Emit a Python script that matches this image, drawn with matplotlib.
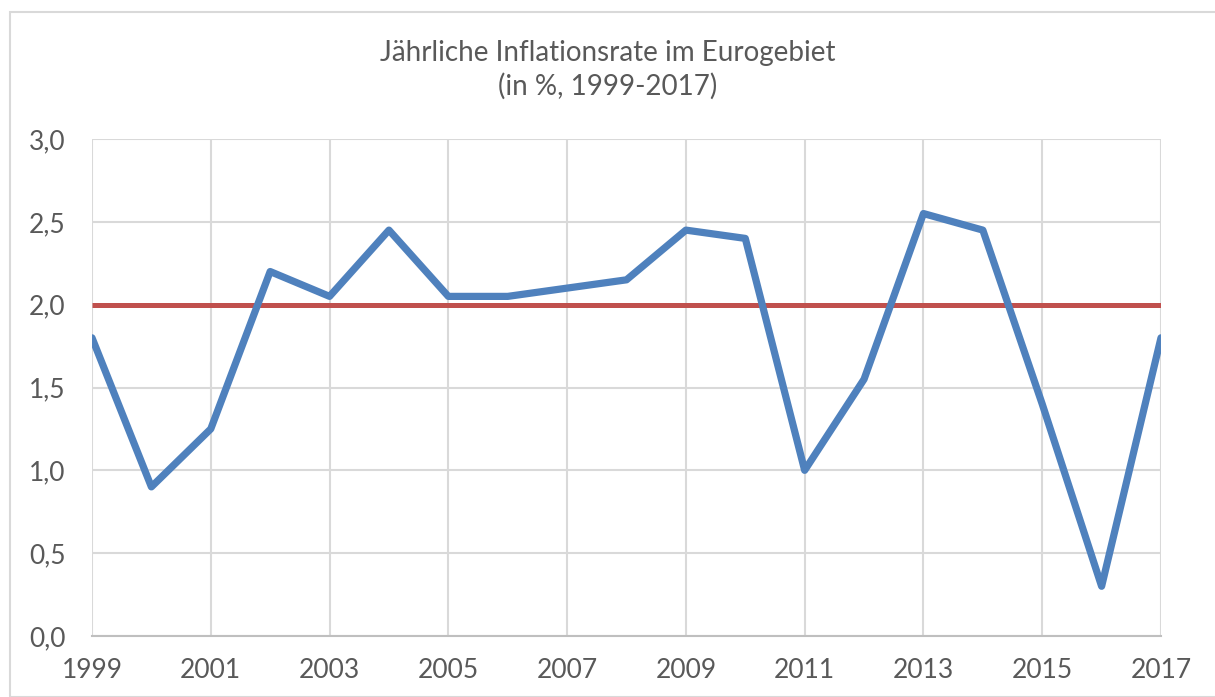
import matplotlib
matplotlib.use("Agg")
import matplotlib.pyplot as plt
from matplotlib.patches import Rectangle

years = list(range(1999, 2018))
inflation = [1.80, 0.90, 1.25, 2.20, 2.05, 2.45, 2.05, 2.05, 2.10, 2.15,
             2.45, 2.40, 1.00, 1.55, 2.55, 2.45, 1.40, 0.30, 1.80]
target = [2.0] * len(years)
xtick_years = list(range(1999, 2018, 2))
yticks = [0.0, 0.5, 1.0, 1.5, 2.0, 2.5, 3.0]
ytick_labels = ["0,0", "0,5", "1,0", "1,5", "2,0", "2,5", "3,0"]
title = "Jährliche Inflationsrate im Eurogebiet\n(in %, 1999-2017)"

plt.rcParams['font.family'] = ['Lato', 'DejaVu Sans']

fig = plt.figure(figsize=(12.15, 6.97), dpi=100)
fig.patches.append(Rectangle((10/1215, 0), 1.2, 1 - 12/697, transform=fig.transFigure,
                             fill=False, edgecolor='#d9d9d9', linewidth=1.5))
ax = fig.add_axes([92/1215, 1 - 636/697, (1161 - 92)/1215, (636 - 139)/697])

ax.plot(years, target, color='#c0504d', linewidth=3.6, solid_capstyle='butt', zorder=3)
ax.plot(years, inflation, color='#4f81bd', linewidth=5.2, solid_capstyle='round',
        solid_joinstyle='round', zorder=4)

ax.set_xlim(1999, 2017)
ax.set_ylim(0, 3.0)
ax.set_xticks(xtick_years)
ax.set_xticklabels([str(y) for y in xtick_years])
ax.set_yticks(yticks)
ax.set_yticklabels(ytick_labels)
ax.grid(True, color='#d9d9d9', linewidth=1.5)
ax.set_axisbelow(True)
for s in ['top', 'right', 'left']:
    ax.spines[s].set_visible(False)
ax.spines['bottom'].set_color('#bfbfbf')
ax.spines['bottom'].set_linewidth(1.5)
ax.tick_params(axis='both', length=0, labelsize=19, colors='#595959')
ax.tick_params(axis='y', pad=19)
ax.tick_params(axis='x', pad=16)

fig.text(0.5 + 0.0, 1 - 70/697, title, ha='center', va='center', fontsize=20,
         color='#595959', linespacing=1.3)

fig.savefig("out.png", dpi=100)
